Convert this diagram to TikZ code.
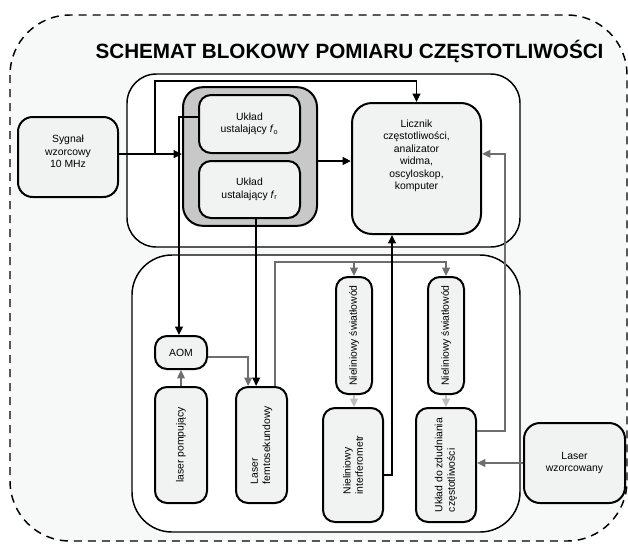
\documentclass[tikz,border=0pt]{standalone}
\usepackage{fontspec}
\setmainfont{Liberation Sans}
\usetikzlibrary{arrows.meta}
\definecolor{tlo}{HTML}{F7F9F9}
\definecolor{wypelnienie}{HTML}{F1F3F3}
\definecolor{grupowy}{HTML}{C8C8C8}
\definecolor{szary}{HTML}{6E6E6E}
\definecolor{jasny}{HTML}{BDBDBD}

\begin{document}
\begin{tikzpicture}[x=0.75pt,y=-0.75pt,>={Stealth[length=2.2mm,width=2mm,inset=0pt]},
  blok/.style={draw,line width=1.5pt,rounded corners=9pt,fill=wypelnienie,align=center,inner sep=2pt,font=\fontsize{7.8}{9.3}\selectfont},
  pion/.style={blok,rotate=90},
  kontener/.style={draw,line width=1.1pt,fill=white},
  mocna/.style={line width=1.9pt},
  czarna/.style={line width=1.4pt},
  szara/.style={draw=szary,line width=1.2pt},
  jasna/.style={draw=jasny,line width=1.2pt}]
\useasboundingbox (0,0) rectangle (628,544);
% tlo i kontenery
\draw[line width=1.1pt,dash pattern=on 6pt off 4.5pt,fill=tlo,rounded corners=45pt] (10,15) rectangle (627,541);
\node[font=\fontsize{15.5}{18}\selectfont\bfseries] (tytul) at (349.5,51.5) {SCHEMAT BLOKOWY POMIARU CZĘSTOTLIWOŚCI};
\draw[kontener,rounded corners=22pt] (127,74) rectangle (520,247);
\draw[kontener,rounded corners=30pt] (132,255) rectangle (520,532);

% czesc elektroniczna
\node[blok,rounded corners=11pt,minimum width=75pt,minimum height=60pt] (syg) at (68,157) {};
\node[font=\fontsize{7.8}{9.3}\selectfont,align=center] (sygt) at ([yshift=4pt]syg.center) {Sygnał\\wzorcowy\\10 MHz};
\node[draw,line width=1.5pt,rounded corners=15pt,fill=grupowy,minimum width=100.5pt,minimum height=104pt] (grupa) at (250,156.5) {};
\node[blok,minimum width=75.75pt,minimum height=43.5pt] (fo) at (249.5,124) {Układ\\ustalający \textit{f}\textsubscript{o}};
\node[blok,minimum width=75.75pt,minimum height=42.75pt] (fr) at (249.5,189.5) {Układ\\ustalający \textit{f}\textsubscript{r}};
\node[blok,rounded corners=15pt,minimum width=96.75pt,minimum height=98.25pt] (licz) at (416.5,168.5) {};
\node[font=\fontsize{7.8}{9.3}\selectfont,align=center] (liczt) at ([yshift=9.5pt]licz.center) {Licznik\\częstotliwości,\\analizator\\widma,\\oscyloskop,\\komputer};

% czesc optyczna
\node[blok,minimum width=39pt,minimum height=24.75pt] (aom) at (181,352.5) {AOM};
\node[pion,minimum width=87pt,minimum height=39pt] (pomp) at (181,445) {laser pompujący};
\node[pion,align=left,minimum width=87pt,minimum height=38.25pt] (femto) at (261.5,445) {Laser\\femtosekundowy};
\node[pion,minimum width=87.75pt,minimum height=27pt] (sw1) at (354,335.5) {Nieliniowy światłowód};
\node[pion,minimum width=87.75pt,minimum height=27pt] (sw2) at (446,335.5) {Nieliniowy światłowód};
\node[pion,align=left,minimum width=85.5pt,minimum height=45pt] (inter) at (353,465) {Nieliniowy\\interferometr};
\node[pion,align=left,minimum width=85.5pt,minimum height=45pt] (zdud) at (446,465) {Układ do zdudniania\\częstotliwości};
\node[blok,rounded corners=12pt,minimum width=75.75pt,minimum height=60pt] (lwz) at (574.5,463) {Laser\\wzorcowany};

% polaczenia
\coordinate (rozg) at (155,154);
\coordinate (szyna) at (300,81);
\draw[mocna,->] ([yshift=2.2pt]syg.east) -- ([yshift=2.2pt]syg.east -| grupa.west);
\draw[czarna,->] (rozg) |- (szyna) -| (licz.north);
\draw[mocna,->] ([yshift=-3.4pt]grupa.east) -- ([yshift=-3.4pt]grupa.east -| licz.west);
\draw[czarna,->] ([yshift=5pt]fo.west) -| ([xshift=-1.5pt]aom.north);
\draw[czarna,->] ([xshift=5pt]fr.south) -- ([xshift=5pt]fr.south |- femto.east);
\draw[szara,->] (pomp.east) -- (aom.south);
\draw[szara,->] ([yshift=-3.4pt]aom.east) -| ([xshift=-10pt]femto.east);
\draw[szara,->] ([xshift=10pt]femto.east) |- ([yshift=10.5pt]sw2.east) -- (sw2.east);
\draw[szara,->] ([yshift=10.5pt]sw1.east) -- (sw1.east);
\draw[jasna,->] (sw1.west) -- (sw1.west |- inter.east);
\draw[jasna,->] (sw2.west) -- (sw2.west |- zdud.east);
\draw[czarna,->] ([yshift=-7.5pt]inter.south) -| ([xshift=-18.4pt]licz.south);
\draw[szara,->] ([yshift=25.5pt]zdud.south) -- ++(21pt,0) |- ([yshift=11pt]licz.east);
\draw[szara,line width=1.8pt,->] (lwz.west) -- (lwz.west -| zdud.south);
\end{tikzpicture}
\end{document}
